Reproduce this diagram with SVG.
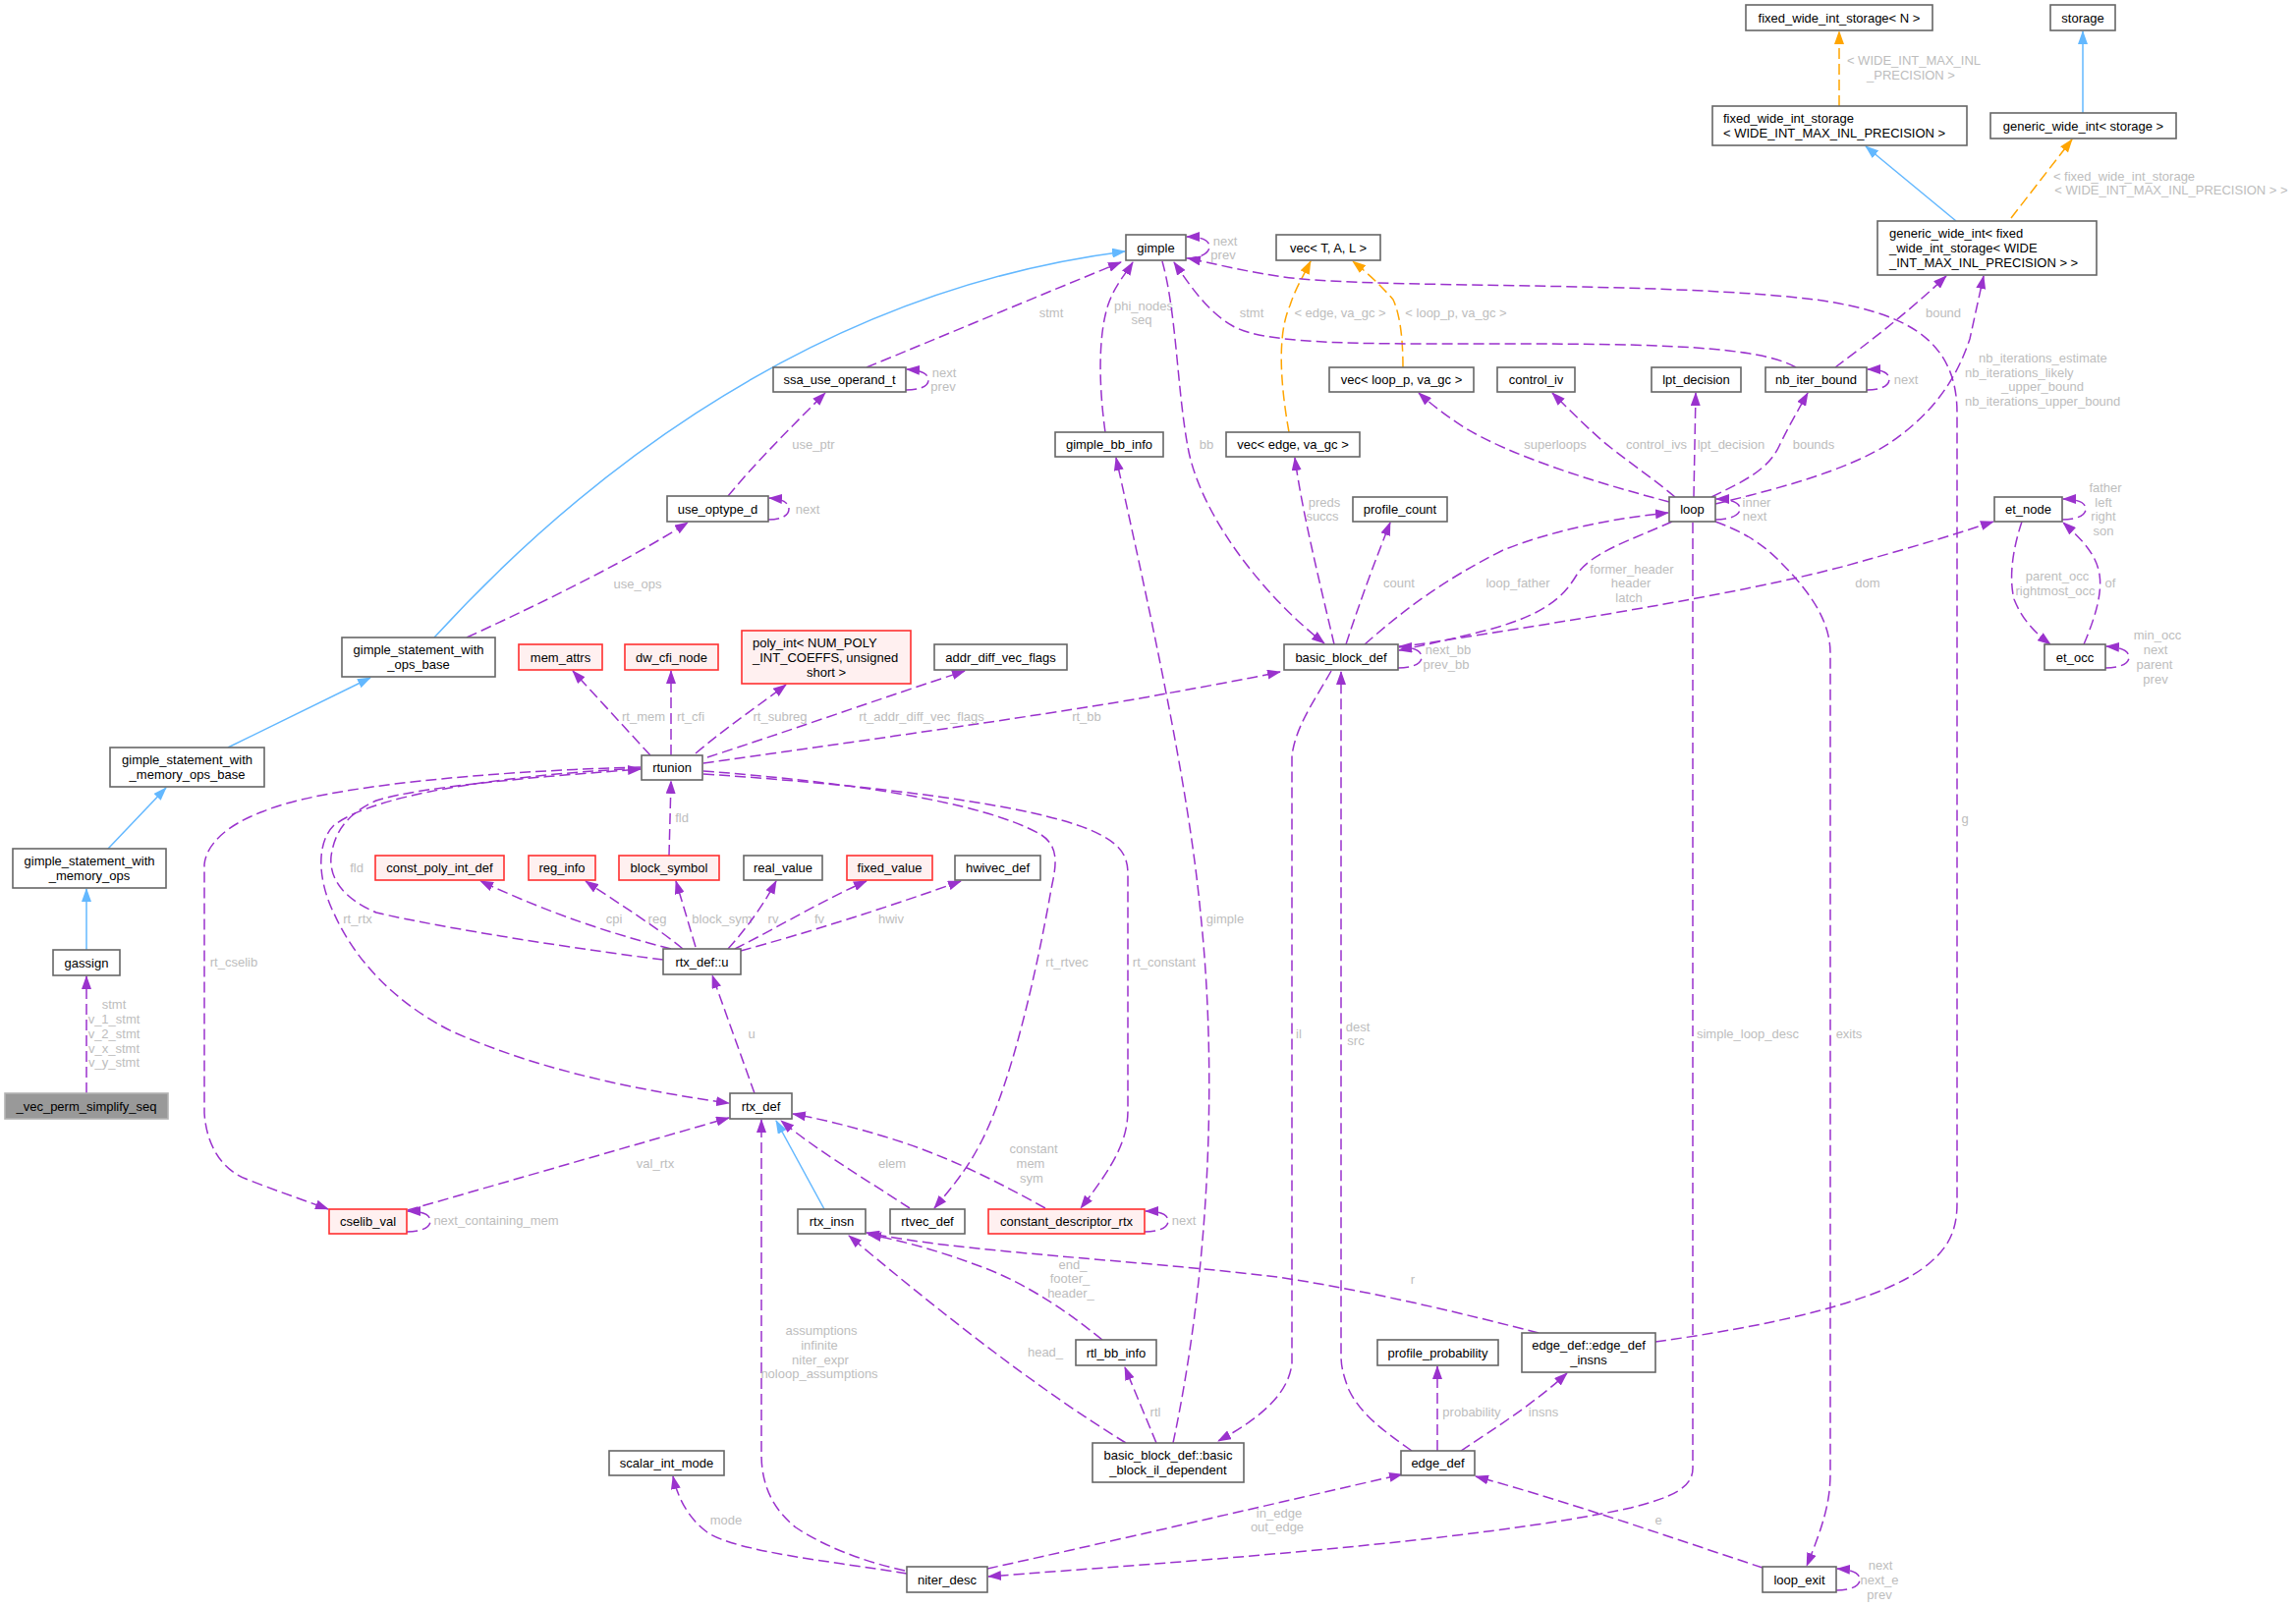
<svg xmlns="http://www.w3.org/2000/svg" width="2337" height="1636" viewBox="0 0 2337 1636">
<style>
.node rect{fill:#ffffff;stroke:#666666;stroke-width:1.6}
.node.red rect{fill:#fff0f0;stroke:#ff3030}
.node.root rect{fill:#999999;stroke:#b3b3b3}
.node text{font-family:"Liberation Sans",Arial,Helvetica,sans-serif;font-size:13px;fill:#000000;text-anchor:middle}
.node text.l{text-anchor:start}
.edge path{fill:none;stroke:#9a32cd;stroke-width:1.5;stroke-dasharray:11,5}
.edge.inh path{stroke:#63b8ff;stroke-dasharray:none}
.edge.tpl path{stroke:#ffa500}
.edge text{font-family:"Liberation Sans",Arial,Helvetica,sans-serif;font-size:13px;fill:#bdbdbd;text-anchor:middle}
.edge text.l{text-anchor:start}
</style>
<defs>
<marker id="ap" viewBox="0 0 14 10" refX="13" refY="5" markerWidth="14" markerHeight="10" markerUnits="userSpaceOnUse" orient="auto"><path d="M0,0 L14,5 L0,10 z" fill="#9a32cd"/></marker>
<marker id="ab" viewBox="0 0 14 10" refX="13" refY="5" markerWidth="14" markerHeight="10" markerUnits="userSpaceOnUse" orient="auto"><path d="M0,0 L14,5 L0,10 z" fill="#63b8ff"/></marker>
<marker id="ao" viewBox="0 0 14 10" refX="13" refY="5" markerWidth="14" markerHeight="10" markerUnits="userSpaceOnUse" orient="auto"><path d="M0,0 L14,5 L0,10 z" fill="#ffa500"/></marker>
</defs>
<rect width="2337" height="1636" fill="#ffffff"/>
<g id="connectors">
<!-- inheritance -->
<g class="edge inh"><path marker-end="url(#ab)" d="M88,967 L88,905"/></g>
<g class="edge inh"><path marker-end="url(#ab)" d="M110,864 L169,802"/></g>
<g class="edge inh"><path marker-end="url(#ab)" d="M232,761 L377,690"/></g>
<g class="edge inh"><path marker-end="url(#ab)" d="M442,649 C560,520 800,300 1145,256"/></g>
<g class="edge inh"><path marker-end="url(#ab)" d="M839,1231 L790,1141"/></g>
<g class="edge inh"><path marker-end="url(#ab)" d="M1991,225 L1899,149"/></g>
<g class="edge inh"><path marker-end="url(#ab)" d="M2120,115 L2120,32"/></g>
<!-- templates -->
<g class="edge tpl"><path marker-end="url(#ao)" d="M1872,108 L1872,32"/><text x="1948" y="65.5">&lt; WIDE_INT_MAX_INL</text><text x="1945" y="80.5">_PRECISION &gt;</text></g>
<g class="edge tpl"><path marker-end="url(#ao)" d="M2047,222 L2109,142"/><text x="2162" y="183.5">&lt; fixed_wide_int_storage</text><text x="2210" y="197.5">&lt; WIDE_INT_MAX_INL_PRECISION &gt; &gt;</text></g>
<g class="edge tpl"><path marker-end="url(#ao)" d="M1312,440 C1303,390 1300,340 1313,311 C1318,295 1326,282 1334,266"/><text x="1364" y="322.5">&lt; edge, va_gc &gt;</text></g>
<g class="edge tpl"><path marker-end="url(#ao)" d="M1428,374 C1428,345 1425,320 1418,305 C1405,290 1392,278 1377,266"/><text x="1482" y="322.5">&lt; loop_p, va_gc &gt;</text></g>
<!-- members -->
<g class="edge"><path marker-end="url(#ap)" d="M88,1113 L88,994"/><text x="116" y="1026.5">stmt</text><text x="116" y="1041.5">v_1_stmt</text><text x="116" y="1056.5">v_2_stmt</text><text x="116" y="1071.5">v_x_stmt</text><text x="116" y="1085.5">v_y_stmt</text></g>
<g class="edge"><path marker-end="url(#ap)" d="M882,374 C960,342 1060,300 1141,267"/><text x="1070" y="322.5">stmt</text></g>
<g class="edge"><path marker-end="url(#ap)" d="M922,397 C935,397 945,394 945,387 C945,381 939,377 923,376"/><text x="961" y="383.5">next</text><text x="960" y="397.5">prev</text></g>
<g class="edge"><path marker-end="url(#ap)" d="M741,505 C770,470 805,435 840,400"/><text x="828" y="456.5">use_ptr</text></g>
<g class="edge"><path marker-end="url(#ap)" d="M782,529 C795,529 803,525 803,518 C803,512 797,508 783,507"/><text x="822" y="522.5">next</text></g>
<g class="edge"><path marker-end="url(#ap)" d="M475,649 C560,610 640,570 700,532"/><text x="649" y="598.5">use_ops</text></g>
<g class="edge"><path marker-end="url(#ap)" d="M1125,440 C1118,390 1118,340 1128,310 C1135,290 1145,280 1153,267"/><text x="1164" y="315.5">phi_nodes</text><text x="1162" y="329.5">seq</text></g>
<g class="edge"><path marker-end="url(#ap)" d="M1194,1469 C1230,1300 1240,1100 1222,930 C1210,800 1170,620 1136,466"/><text x="1247" y="939.5">gimple</text></g>
<g class="edge"><path marker-end="url(#ap)" d="M1183,266 C1198,320 1198,400 1210,460 C1225,530 1290,610 1348,655"/><text x="1228" y="456.5">bb</text></g>
<g class="edge"><path marker-end="url(#ap)" d="M1207,263 C1221,263 1231,258 1231,251 C1231,245 1224,241 1208,241"/><text x="1247" y="249.5">next</text><text x="1245" y="263.5">prev</text></g>
<g class="edge"><path marker-end="url(#ap)" d="M1828,374 C1790,352 1680,350 1540,350 C1400,350 1290,352 1255,332 C1230,318 1212,292 1195,267"/><text x="1274" y="322.5">stmt</text></g>
<g class="edge"><path marker-end="url(#ap)" d="M1685,1366 C1800,1350 1920,1325 1965,1285 C1985,1268 1992,1250 1992,1225 L1992,420 C1992,340 1930,318 1855,306 C1700,285 1380,295 1300,281 C1260,275 1235,268 1209,263"/><text x="2000" y="837.5">g</text></g>
<g class="edge"><path marker-end="url(#ap)" d="M1358,656 C1345,600 1325,520 1318,466"/><text x="1348" y="515.5">preds</text><text x="1346" y="529.5">succs</text></g>
<g class="edge"><path marker-end="url(#ap)" d="M1370,656 C1385,610 1400,570 1415,532"/><text x="1424" y="597.5">count</text></g>
<g class="edge"><path marker-end="url(#ap)" d="M1389,656 C1430,620 1470,590 1530,560 C1580,540 1640,528 1698,522"/><text x="1545" y="597.5">loop_father</text></g>
<g class="edge"><path marker-end="url(#ap)" d="M1702,531 C1660,550 1620,562 1605,585 C1590,610 1570,628 1500,645 C1470,652 1450,657 1424,662"/><text x="1661" y="583.5">former_header</text><text x="1660" y="597.5">header</text><text x="1658" y="612.5">latch</text></g>
<g class="edge"><path marker-end="url(#ap)" d="M1699,511 C1620,490 1540,465 1490,435 C1470,422 1455,410 1444,400"/><text x="1583" y="456.5">superloops</text></g>
<g class="edge"><path marker-end="url(#ap)" d="M1705,506 C1680,485 1650,465 1630,448 C1610,430 1595,415 1580,400"/><text x="1686" y="456.5">control_ivs</text></g>
<g class="edge"><path marker-end="url(#ap)" d="M1724,506 L1726,400"/><text x="1762" y="456.5">lpt_decision</text></g>
<g class="edge"><path marker-end="url(#ap)" d="M1742,506 C1775,490 1800,478 1811,454 C1820,435 1830,418 1840,400"/><text x="1846" y="456.5">bounds</text></g>
<g class="edge"><path marker-end="url(#ap)" d="M1900,397 C1914,397 1923,393 1923,386 C1923,380 1916,376 1901,376"/><text x="1940" y="390.5">next</text></g>
<g class="edge"><path marker-end="url(#ap)" d="M1868,374 C1900,350 1940,320 1981,281"/><text x="1978" y="322.5">bound</text></g>
<g class="edge"><path marker-end="url(#ap)" d="M1746,513 C1800,500 1880,480 1925,450 C1965,422 1990,390 2005,345 L2019,281"/><text class="l" x="2014" y="368.5">nb_iterations_estimate</text><text class="l" x="2000" y="383.5">nb_iterations_likely</text><text class="l" x="2037" y="397.5">_upper_bound</text><text class="l" x="2000" y="412.5">nb_iterations_upper_bound</text></g>
<g class="edge"><path marker-end="url(#ap)" d="M1746,529 C1760,529 1771,525 1771,518 C1771,512 1763,508 1747,508"/><text x="1788" y="515.5">inner</text><text x="1786" y="529.5">next</text></g>
<g class="edge"><path marker-end="url(#ap)" d="M1424,659 C1600,632 1800,600 1900,570 C1950,556 1990,544 2029,531"/><text x="1901" y="597.5">dom</text></g>
<g class="edge"><path marker-end="url(#ap)" d="M2099,529 C2113,529 2123,525 2123,518 C2123,512 2115,508 2100,508"/><text x="2143" y="500.5">father</text><text x="2141" y="515.5">left</text><text x="2141" y="529.5">right</text><text x="2141" y="544.5">son</text></g>
<g class="edge"><path marker-end="url(#ap)" d="M2058,531 C2050,555 2044,585 2050,610 C2058,630 2070,643 2087,656"/><text x="2094" y="590.5">parent_occ</text><text x="2092" y="605.5">rightmost_occ</text></g>
<g class="edge"><path marker-end="url(#ap)" d="M2121,656 C2132,630 2140,605 2137,585 C2134,565 2120,550 2100,532"/><text x="2148" y="597.5">of</text></g>
<g class="edge"><path marker-end="url(#ap)" d="M2143,680 C2157,680 2167,676 2167,669 C2167,663 2160,659 2144,658"/><text x="2196" y="650.5">min_occ</text><text x="2194" y="665.5">next</text><text x="2193" y="680.5">parent</text><text x="2194" y="695.5">prev</text></g>
<g class="edge"><path marker-end="url(#ap)" d="M1423,680 C1437,680 1447,676 1447,669 C1447,663 1440,659 1424,658"/><text x="1474" y="665.5">next_bb</text><text x="1472" y="680.5">prev_bb</text></g>
<g class="edge"><path marker-end="url(#ap)" d="M716,777 C850,758 1050,730 1160,711 C1220,700 1265,692 1303,684"/><text x="1106" y="733.5">rt_bb</text></g>
<g class="edge"><path marker-end="url(#ap)" d="M662,769 L583,683"/><text x="655" y="733.5">rt_mem</text></g>
<g class="edge"><path marker-end="url(#ap)" d="M683,769 L683,683"/><text x="703" y="733.5">rt_cfi</text></g>
<g class="edge"><path marker-end="url(#ap)" d="M708,767 C740,740 770,720 800,697"/><text x="794" y="733.5">rt_subreg</text></g>
<g class="edge"><path marker-end="url(#ap)" d="M720,771 C800,745 900,710 982,683"/><text x="938" y="733.5">rt_addr_diff_vec_flags</text></g>
<g class="edge"><path marker-end="url(#ap)" d="M716,785 C850,795 1000,815 1060,850 C1080,863 1074,885 1070,905 C1055,990 1030,1100 1000,1160 C985,1190 968,1210 951,1230"/><text x="1086" y="983.5">rt_rtvec</text></g>
<g class="edge"><path marker-end="url(#ap)" d="M716,788 C900,800 1050,820 1110,845 C1140,858 1148,870 1148,890 L1148,1130 C1148,1160 1135,1185 1100,1230"/><text x="1185" y="983.5">rt_constant</text></g>
<g class="edge"><path marker-end="url(#ap)" d="M681,871 L683,795"/><text x="694" y="836.5">fld</text></g>
<g class="edge"><path marker-end="url(#ap)" d="M675,977 C600,968 450,945 383,929 C350,915 335,895 337,872 C340,850 350,830 383,815 C430,800 560,790 652,783"/><text x="363" y="887.5">fld</text></g>
<g class="edge"><path marker-end="url(#ap)" d="M652,782 C500,790 380,810 340,840 C320,860 325,900 340,930 C360,975 400,1020 460,1050 C550,1090 650,1110 742,1123"/><text x="364" y="939.5">rt_rtx</text></g>
<g class="edge"><path marker-end="url(#ap)" d="M652,781 C500,785 330,800 268,826 C230,840 210,860 208,880 L208,1133 C210,1165 225,1190 250,1200 C280,1212 310,1222 334,1231"/><text x="238" y="983.5">rt_cselib</text></g>
<g class="edge"><path marker-end="url(#ap)" d="M683,966 C620,950 560,930 489,897"/><text x="625" y="939.5">cpi</text></g>
<g class="edge"><path marker-end="url(#ap)" d="M695,966 C670,945 630,920 596,897"/><text x="669" y="939.5">reg</text></g>
<g class="edge"><path marker-end="url(#ap)" d="M708,964 L688,897"/><text x="735" y="939.5">block_sym</text></g>
<g class="edge"><path marker-end="url(#ap)" d="M741,966 C760,945 778,920 790,897"/><text x="787" y="939.5">rv</text></g>
<g class="edge"><path marker-end="url(#ap)" d="M748,966 C790,945 840,915 882,897"/><text x="834" y="939.5">fv</text></g>
<g class="edge"><path marker-end="url(#ap)" d="M754,968 C820,950 900,925 978,897"/><text x="907" y="939.5">hwiv</text></g>
<g class="edge"><path marker-end="url(#ap)" d="M768,1113 L725,993"/><text x="765" y="1056.5">u</text></g>
<g class="edge"><path marker-end="url(#ap)" d="M415,1232 L742,1138"/><text x="667" y="1188.5">val_rtx</text></g>
<g class="edge"><path marker-end="url(#ap)" d="M414,1254 C428,1254 438,1250 438,1243 C438,1237 431,1233 415,1233"/><text x="505" y="1246.5">next_containing_mem</text></g>
<g class="edge"><path marker-end="url(#ap)" d="M926,1230 C880,1200 830,1170 795,1141"/><text x="908" y="1188.5">elem</text></g>
<g class="edge"><path marker-end="url(#ap)" d="M1064,1230 C1010,1200 960,1175 900,1157 C870,1148 840,1140 807,1134"/><text x="1052" y="1173.5">constant</text><text x="1049" y="1188.5">mem</text><text x="1050" y="1203.5">sym</text></g>
<g class="edge"><path marker-end="url(#ap)" d="M1165,1254 C1179,1254 1189,1250 1189,1243 C1189,1237 1182,1233 1166,1233"/><text x="1205" y="1246.5">next</text></g>
<g class="edge"><path marker-end="url(#ap)" d="M1566,1357 C1500,1340 1400,1315 1300,1300 C1150,1282 980,1275 882,1255"/><text x="1438" y="1306.5">r</text></g>
<g class="edge"><path marker-end="url(#ap)" d="M1122,1364 C1080,1330 1040,1305 1000,1290 C960,1275 920,1263 884,1257"/><text x="1092" y="1291.5">end_</text><text x="1089" y="1305.5">footer_</text><text x="1090" y="1320.5">header_</text></g>
<g class="edge"><path marker-end="url(#ap)" d="M1146,1469 C1050,1410 950,1330 864,1258"/><text x="1064" y="1380.5">head_</text></g>
<g class="edge"><path marker-end="url(#ap)" d="M1177,1469 L1145,1392"/><text x="1176" y="1441.5">rtl</text></g>
<g class="edge"><path marker-end="url(#ap)" d="M1355,683 C1340,710 1318,740 1315,770 L1315,1388 C1312,1415 1290,1440 1240,1467"/><text x="1322" y="1056.5">il</text></g>
<g class="edge"><path marker-end="url(#ap)" d="M1437,1477 C1410,1458 1385,1440 1373,1415 C1367,1400 1365,1390 1365,1380 L1365,684"/><text x="1382" y="1049.5">dest</text><text x="1380" y="1063.5">src</text></g>
<g class="edge"><path marker-end="url(#ap)" d="M1463,1477 L1463,1391"/><text x="1498" y="1441.5">probability</text></g>
<g class="edge"><path marker-end="url(#ap)" d="M1487,1477 C1520,1455 1560,1430 1595,1398"/><text x="1571" y="1441.5">insns</text></g>
<g class="edge"><path marker-end="url(#ap)" d="M1005,1597 C1150,1565 1300,1530 1427,1501"/><text x="1302" y="1544.5">in_edge</text><text x="1300" y="1558.5">out_edge</text></g>
<g class="edge"><path marker-end="url(#ap)" d="M923,1602 C850,1590 750,1580 720,1560 C700,1545 690,1525 685,1503"/><text x="739" y="1551.5">mode</text></g>
<g class="edge"><path marker-end="url(#ap)" d="M921,1599 C880,1590 840,1575 810,1555 C785,1535 775,1510 775,1480 L775,1140"/><text x="836" y="1358.5">assumptions</text><text x="834" y="1373.5">infinite</text><text x="835" y="1388.5">niter_expr</text><text x="834" y="1402.5">noloop_assumptions</text></g>
<g class="edge"><path marker-end="url(#ap)" d="M1723,532 L1723,1495 C1723,1515 1700,1525 1660,1535 C1500,1570 1200,1590 1006,1605"/><text x="1779" y="1056.5">simple_loop_desc</text></g>
<g class="edge"><path marker-end="url(#ap)" d="M1746,531 C1770,540 1790,550 1810,570 C1840,600 1863,630 1863,665 L1863,1500 C1863,1530 1855,1555 1839,1594"/><text x="1882" y="1056.5">exits</text></g>
<g class="edge"><path marker-end="url(#ap)" d="M1794,1596 C1700,1565 1600,1530 1502,1503"/><text x="1688" y="1551.5">e</text></g>
<g class="edge"><path marker-end="url(#ap)" d="M1869,1619 C1883,1619 1893,1615 1893,1608 C1893,1602 1886,1598 1870,1597"/><text x="1914" y="1597.5">next</text><text x="1913" y="1612.5">next_e</text><text x="1913" y="1627.5">prev</text></g>
</g>
<g id="nodes">
<g id="n_vec_perm" class="node root"><rect x="5" y="1113" width="166" height="26"/><text x="88" y="1130.5">_vec_perm_simplify_seq</text></g>
<g id="n_gassign" class="node"><rect x="54" y="967" width="68" height="26"/><text x="88" y="984.5">gassign</text></g>
<g id="n_gswmo" class="node"><rect x="13" y="864" width="156" height="40"/><text x="91" y="881">gimple_statement_with</text><text x="91" y="896">_memory_ops</text></g>
<g id="n_gswmob" class="node"><rect x="112" y="761" width="157" height="40"/><text x="190.5" y="778">gimple_statement_with</text><text x="190.5" y="793">_memory_ops_base</text></g>
<g id="n_gswob" class="node"><rect x="348" y="649" width="156" height="40"/><text x="426" y="666">gimple_statement_with</text><text x="426" y="681">_ops_base</text></g>
<g id="n_gimple" class="node"><rect x="1146" y="239" width="61" height="26"/><text x="1176.5" y="256.5">gimple</text></g>
<g id="n_ssa_use_operand_t" class="node"><rect x="787" y="374" width="135" height="25"/><text x="854.5" y="391">ssa_use_operand_t</text></g>
<g id="n_use_optype_d" class="node"><rect x="679" y="505" width="103" height="26"/><text x="730.5" y="522.5">use_optype_d</text></g>
<g id="n_gimple_bb_info" class="node"><rect x="1074" y="440" width="110" height="25"/><text x="1129" y="457">gimple_bb_info</text></g>
<g id="n_vec_tal" class="node"><rect x="1299" y="239" width="106" height="26"/><text x="1352" y="256.5">vec&lt; T, A, L &gt;</text></g>
<g id="n_vec_loop" class="node"><rect x="1353" y="374" width="147" height="25"/><text x="1426.5" y="391">vec&lt; loop_p, va_gc &gt;</text></g>
<g id="n_vec_edge" class="node"><rect x="1248" y="440" width="136" height="25"/><text x="1316" y="457">vec&lt; edge, va_gc &gt;</text></g>
<g id="n_control_iv" class="node"><rect x="1524" y="374" width="79" height="25"/><text x="1563.5" y="391">control_iv</text></g>
<g id="n_lpt_decision" class="node"><rect x="1681" y="374" width="91" height="25"/><text x="1726.5" y="391">lpt_decision</text></g>
<g id="n_nb_iter_bound" class="node"><rect x="1797" y="374" width="103" height="25"/><text x="1848.5" y="391">nb_iter_bound</text></g>
<g id="n_fwis_n" class="node"><rect x="1777" y="5" width="190" height="26"/><text x="1872" y="22.5">fixed_wide_int_storage&lt; N &gt;</text></g>
<g id="n_storage" class="node"><rect x="2087" y="5" width="66" height="26"/><text x="2120" y="22.5">storage</text></g>
<g id="n_fwis_w" class="node"><rect x="1743" y="108" width="259" height="40"/><text class="l" x="1754" y="125">fixed_wide_int_storage</text><text class="l" x="1754" y="140">&lt; WIDE_INT_MAX_INL_PRECISION &gt;</text></g>
<g id="n_gwi_storage" class="node"><rect x="2026" y="115" width="189" height="26"/><text x="2120.5" y="132.5">generic_wide_int&lt; storage &gt;</text></g>
<g id="n_gwi_fixed" class="node"><rect x="1911" y="225" width="223" height="55"/><text class="l" x="1923" y="242">generic_wide_int&lt; fixed</text><text class="l" x="1923" y="257">_wide_int_storage&lt; WIDE</text><text class="l" x="1923" y="272">_INT_MAX_INL_PRECISION &gt; &gt;</text></g>
<g id="n_profile_count" class="node"><rect x="1377" y="506" width="96" height="25"/><text x="1425" y="523">profile_count</text></g>
<g id="n_loop" class="node"><rect x="1699" y="506" width="47" height="25"/><text x="1722.5" y="523">loop</text></g>
<g id="n_et_node" class="node"><rect x="2030" y="506" width="69" height="25"/><text x="2064.5" y="523">et_node</text></g>
<g id="n_basic_block_def" class="node"><rect x="1307" y="656" width="116" height="26"/><text x="1365" y="673.5">basic_block_def</text></g>
<g id="n_et_occ" class="node"><rect x="2081" y="656" width="62" height="26"/><text x="2112" y="673.5">et_occ</text></g>
<g id="n_mem_attrs" class="node red"><rect x="528" y="656" width="85" height="26"/><text x="570.5" y="673.5">mem_attrs</text></g>
<g id="n_dw_cfi_node" class="node red"><rect x="636" y="656" width="95" height="26"/><text x="683.5" y="673.5">dw_cfi_node</text></g>
<g id="n_poly_int" class="node red"><rect x="755" y="642" width="172" height="54"/><text class="l" x="766" y="658.5">poly_int&lt; NUM_POLY</text><text class="l" x="766" y="673.5">_INT_COEFFS, unsigned</text><text x="841" y="688.5">short &gt;</text></g>
<g id="n_addr_diff_vec_flags" class="node"><rect x="951" y="656" width="135" height="26"/><text x="1018.5" y="673.5">addr_diff_vec_flags</text></g>
<g id="n_rtunion" class="node"><rect x="653" y="769" width="62" height="25"/><text x="684" y="786">rtunion</text></g>
<g id="n_const_poly_int_def" class="node red"><rect x="382" y="871" width="131" height="25"/><text x="447.5" y="888">const_poly_int_def</text></g>
<g id="n_reg_info" class="node red"><rect x="538" y="871" width="68" height="25"/><text x="572" y="888">reg_info</text></g>
<g id="n_block_symbol" class="node red"><rect x="630" y="871" width="102" height="25"/><text x="681" y="888">block_symbol</text></g>
<g id="n_real_value" class="node"><rect x="757" y="871" width="80" height="25"/><text x="797" y="888">real_value</text></g>
<g id="n_fixed_value" class="node red"><rect x="862" y="871" width="87" height="25"/><text x="905.5" y="888">fixed_value</text></g>
<g id="n_hwivec_def" class="node"><rect x="972" y="871" width="87" height="25"/><text x="1015.5" y="888">hwivec_def</text></g>
<g id="n_rtx_def_u" class="node"><rect x="675" y="966" width="79" height="26"/><text x="714.5" y="983.5">rtx_def::u</text></g>
<g id="n_rtx_def" class="node"><rect x="743" y="1113" width="63" height="26"/><text x="774.5" y="1130.5">rtx_def</text></g>
<g id="n_cselib_val" class="node red"><rect x="335" y="1231" width="79" height="25"/><text x="374.5" y="1248">cselib_val</text></g>
<g id="n_rtx_insn" class="node"><rect x="812" y="1231" width="69" height="25"/><text x="846.5" y="1248">rtx_insn</text></g>
<g id="n_rtvec_def" class="node"><rect x="906" y="1231" width="76" height="25"/><text x="944" y="1248">rtvec_def</text></g>
<g id="n_constant_descriptor_rtx" class="node red"><rect x="1006" y="1231" width="159" height="25"/><text x="1085.5" y="1248">constant_descriptor_rtx</text></g>
<g id="n_rtl_bb_info" class="node"><rect x="1095" y="1364" width="82" height="26"/><text x="1136" y="1381.5">rtl_bb_info</text></g>
<g id="n_profile_probability" class="node"><rect x="1402" y="1364" width="123" height="26"/><text x="1463.5" y="1381.5">profile_probability</text></g>
<g id="n_edge_def_insns" class="node"><rect x="1549" y="1357" width="136" height="40"/><text x="1617" y="1374">edge_def::edge_def</text><text x="1617" y="1389">_insns</text></g>
<g id="n_scalar_int_mode" class="node"><rect x="620" y="1477" width="117" height="25"/><text x="678.5" y="1494">scalar_int_mode</text></g>
<g id="n_bb_il_dependent" class="node"><rect x="1112" y="1469" width="154" height="40"/><text x="1189" y="1486">basic_block_def::basic</text><text x="1189" y="1501">_block_il_dependent</text></g>
<g id="n_edge_def" class="node"><rect x="1426" y="1477" width="75" height="25"/><text x="1463.5" y="1494">edge_def</text></g>
<g id="n_niter_desc" class="node"><rect x="923" y="1595" width="82" height="26"/><text x="964" y="1612.5">niter_desc</text></g>
<g id="n_loop_exit" class="node"><rect x="1794" y="1595" width="75" height="26"/><text x="1831.5" y="1612.5">loop_exit</text></g>
</g>
</svg>
